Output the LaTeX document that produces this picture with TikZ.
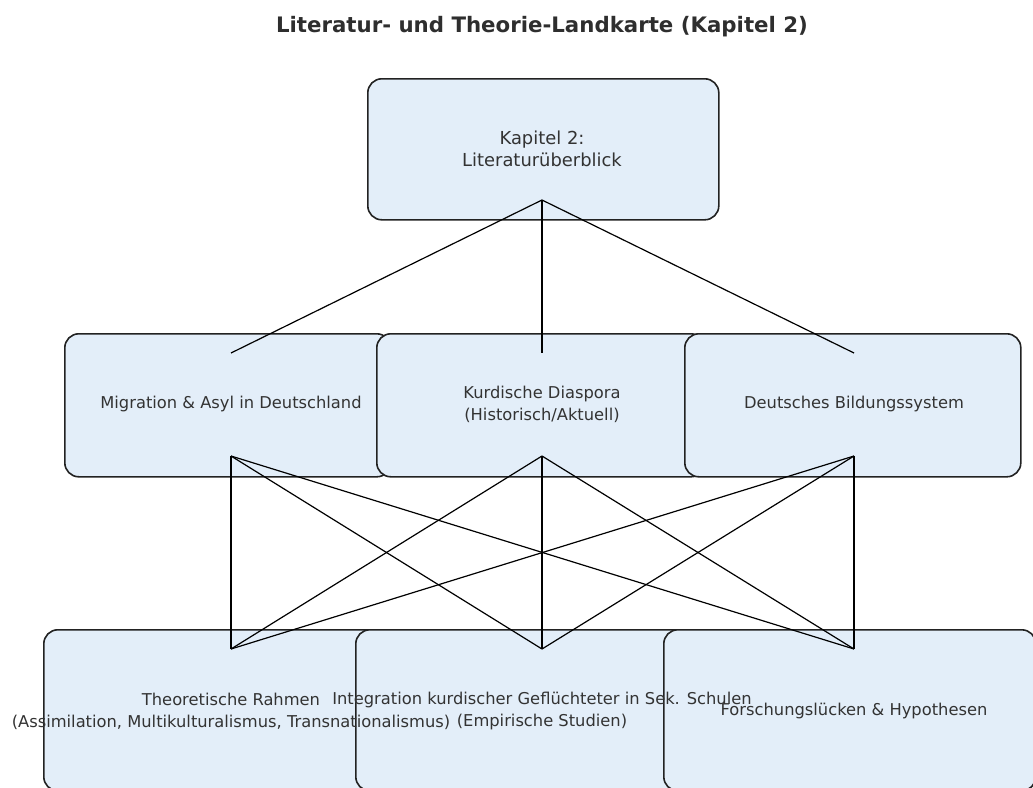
\documentclass[tikz,border=0pt]{standalone}
\usepackage{fontspec}
\setmainfont{DejaVu Sans}
\definecolor{boxfill}{HTML}{E3EEF9}
\definecolor{boxline}{HTML}{222222}
\definecolor{txtgrey}{HTML}{333333}
\tikzstyle{box} = [draw=boxline, fill=boxfill, line width=1.6pt, rounded corners=14pt, anchor=north west, inner sep=0pt]
\tikzstyle{lbl} = [text=txtgrey, align=center, inner sep=0pt, font=\fontsize{16.3}{22}\selectfont]
\tikzstyle{link} = [black, line width=1.2pt]

\begin{document}
\begin{tikzpicture}[x=1pt, y=-1pt]

		\useasboundingbox (0,0) rectangle (1033,787);

		\node [lbl, text=txtgrey!90!black, font=\bfseries\fontsize{21.3}{26}\selectfont] (title) at (542,27) {Literatur- und Theorie-Landkarte (Kapitel 2)};

		\node [box, minimum width=351pt, minimum height=141pt] (kap) at (367,78) {};

		\node [box, minimum width=326pt, minimum height=143pt] (mig) at (64,333) {};
		\node [box, minimum width=328pt, minimum height=143pt] (kur) at (376,333) {};
		\node [box, minimum width=336pt, minimum height=143pt] (bil) at (684,333) {};

		\node [box, minimum width=372pt, minimum height=161pt] (the) at (43,629) {};
		\node [box, minimum width=372pt, minimum height=161pt] (int) at (355,629) {};
		\node [box, minimum width=372pt, minimum height=161pt] (for) at (663,629) {};

		\coordinate (kap-s) at (542,200);
		\coordinate (mig-n) at (231,353);
		\coordinate (kur-n) at (542,353);
		\coordinate (bil-n) at (854,353);
		\coordinate (mig-s) at (231,456);
		\coordinate (kur-s) at (542,456);
		\coordinate (bil-s) at (854,456);
		\coordinate (the-n) at (231,649);
		\coordinate (int-n) at (542,649);
		\coordinate (for-n) at (854,649);

		\foreach \m in {mig,kur,bil} {
			\draw [link] (kap-s) -- (\m-n);
			\foreach \b in {the,int,for}
				\draw [link] (\m-s) -- (\b-n);
		}

		\node [lbl, font=\fontsize{17.9}{21.5}\selectfont] (kap-t) at (542,149) {Kapitel 2:\\Literaturüberblick};

		\node [lbl] (mig-t) at (231,404) {Migration \& Asyl in Deutschland};
		\node [lbl] (kur-t) at (542,404) {Kurdische Diaspora\\(Historisch/Aktuell)};
		\node [lbl] (bil-t) at (854,404) {Deutsches Bildungssystem};

		\node [lbl] (the-t) at (231,711) {Theoretische Rahmen\\(Assimilation, Multikulturalismus, Transnationalismus)};
		\node [lbl] (int-t) at (542,711) {Integration kurdischer Geflüchteter in Sek. Schulen\\(Empirische Studien)};
		\node [lbl] (for-t) at (854,711) {Forschungslücken \& Hypothesen};

	\end{tikzpicture}
\end{document}
